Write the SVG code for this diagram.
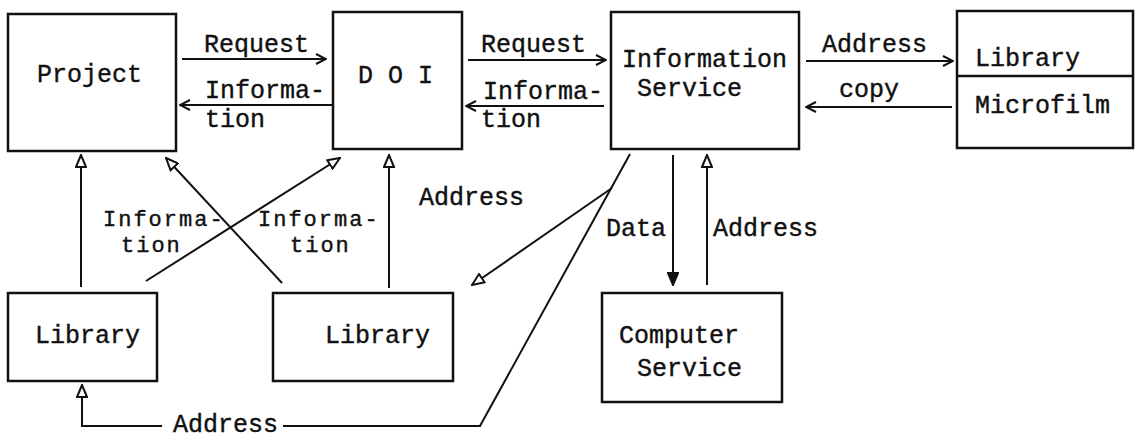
<svg xmlns="http://www.w3.org/2000/svg" width="1137" height="440" viewBox="0 0 1137 440">
  <style>
    .box { fill: none; stroke: #111; stroke-width: 2.5; }
    .lbl { font-family: "Liberation Mono", "DejaVu Sans Mono", monospace; font-size: 25px; fill: #111; stroke: #111; stroke-width: 0.4; }
    .tight { font-size: 22px; letter-spacing: 2px; }
    .wire { fill: none; stroke: #111; stroke-width: 2; }
    .open { marker-end: url(#chevron); }
    .hollow { marker-end: url(#tri); }
    .solid { marker-end: url(#trifill); }
  </style>
  <defs>
    <marker id="chevron" viewBox="0 0 12 12" markerWidth="12" markerHeight="12" refX="11" refY="6" orient="auto" markerUnits="userSpaceOnUse">
      <path d="M1,1 L11,6 L1,11" fill="none" stroke="#111" stroke-width="2"/>
    </marker>
    <marker id="tri" viewBox="0 0 14 12" markerWidth="14" markerHeight="12" refX="13" refY="6" orient="auto" markerUnits="userSpaceOnUse">
      <path d="M1,1 L13,6 L1,11 Z" fill="#fff" stroke="#111" stroke-width="2"/>
    </marker>
    <marker id="trifill" viewBox="0 0 14 12" markerWidth="14" markerHeight="12" refX="13" refY="6" orient="auto" markerUnits="userSpaceOnUse">
      <path d="M1,1 L13,6 L1,11 Z" fill="#111" stroke="#111" stroke-width="2"/>
    </marker>
  </defs>
  <rect width="1137" height="440" fill="#fff"/>

  <!-- connectors -->
  <g id="connectors">
    <line class="wire open" x1="182" y1="59" x2="326" y2="59"/>
    <line class="wire open" x1="332" y1="105" x2="180" y2="105"/>
    <line class="wire open" x1="468" y1="60" x2="606" y2="60"/>
    <line class="wire open" x1="604" y1="106" x2="466" y2="106"/>
    <line class="wire open" x1="806" y1="61" x2="953" y2="61"/>
    <line class="wire open" x1="952" y1="107" x2="806" y2="107"/>
    <line class="wire hollow" x1="81" y1="287" x2="81" y2="155"/>
    <line class="wire hollow" x1="146" y1="281" x2="340" y2="158"/>
    <line class="wire hollow" x1="282" y1="283" x2="166" y2="158"/>
    <line class="wire hollow" x1="389" y1="288" x2="389" y2="155"/>
    <line class="wire hollow" x1="612" y1="188" x2="472" y2="285"/>
    <path class="wire hollow" d="M630,154 L480,426 L283,426 M162,426 L82,426 L82,385"/>
    <line class="wire solid" x1="673" y1="155" x2="673" y2="285"/>
    <line class="wire hollow" x1="707" y1="285" x2="707" y2="155"/>
    <text class="lbl" x="204" y="52">Request</text>
    <text class="lbl" x="205" y="98">Informa-</text>
    <text class="lbl" x="205" y="127">tion</text>
    <text class="lbl" x="481" y="52">Request</text>
    <text class="lbl" x="483" y="99">Informa-</text>
    <text class="lbl" x="481" y="127">tion</text>
    <text class="lbl" x="822" y="52">Address</text>
    <text class="lbl" x="839" y="97">copy</text>
    <text class="lbl tight" x="103" y="226">Informa-</text>
    <text class="lbl tight" x="121" y="252">tion</text>
    <text class="lbl tight" x="258" y="226">Informa-</text>
    <text class="lbl tight" x="290" y="252">tion</text>
    <text class="lbl" x="419" y="205">Address</text>
    <text class="lbl" x="606" y="236">Data</text>
    <text class="lbl" x="713" y="236">Address</text>
    <text class="lbl" x="173" y="432">Address</text>
  </g>

  <!-- nodes -->
  <g id="project">
    <rect class="box" x="8" y="14" width="168" height="137"/>
    <text class="lbl" x="37" y="82">Project</text>
  </g>
  <g id="doi">
    <rect class="box" x="333" y="12" width="129" height="137"/>
    <text class="lbl" x="358" y="83">D O I</text>
  </g>
  <g id="information-service">
    <rect class="box" x="611" y="12" width="188" height="137"/>
    <text class="lbl" x="622" y="67">Information</text>
    <text class="lbl" x="637" y="96">Service</text>
  </g>
  <g id="library-microfilm">
    <rect class="box" x="957" y="11" width="176" height="137"/>
    <line class="box" x1="957" y1="76" x2="1133" y2="76"/>
    <text class="lbl" x="975" y="66">Library</text>
    <text class="lbl" x="975" y="113">Microfilm</text>
  </g>
  <g id="library-1">
    <rect class="box" x="8" y="293" width="149" height="88"/>
    <text class="lbl" x="35" y="343">Library</text>
  </g>
  <g id="library-2">
    <rect class="box" x="273" y="293" width="180" height="88"/>
    <text class="lbl" x="325" y="343">Library</text>
  </g>
  <g id="computer-service">
    <rect class="box" x="602" y="293" width="180" height="109"/>
    <text class="lbl" x="619" y="343">Computer</text>
    <text class="lbl" x="637" y="376">Service</text>
  </g>
</svg>
